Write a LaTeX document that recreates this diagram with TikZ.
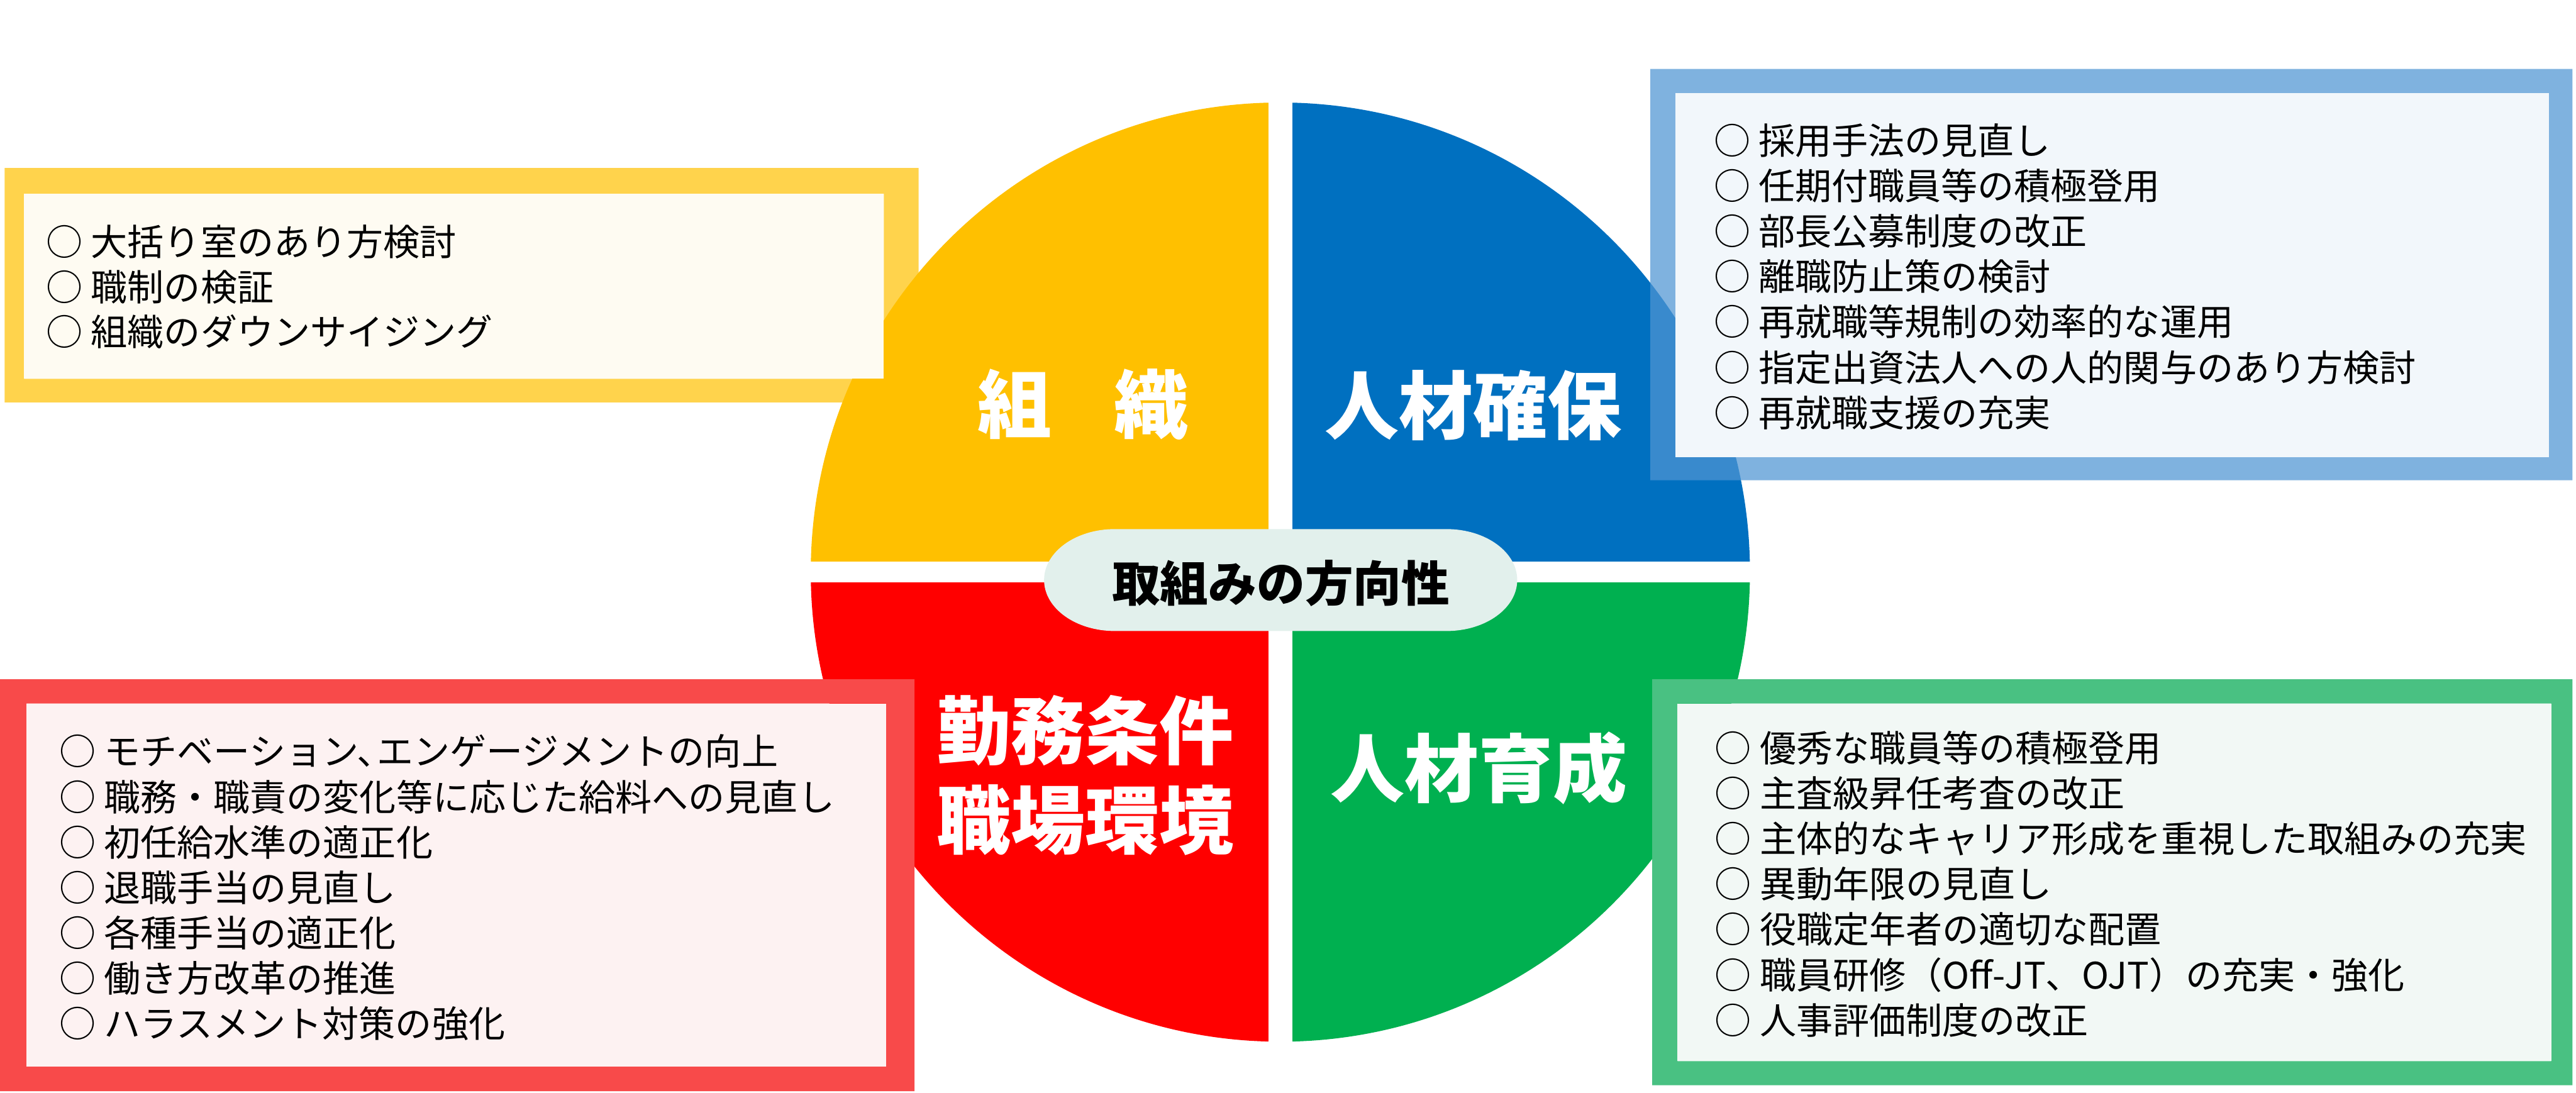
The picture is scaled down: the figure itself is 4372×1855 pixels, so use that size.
\documentclass[tikz,border=0pt]{standalone}
\usepackage{fontspec}
\newfontfamily\jpfont{Noto Sans CJK JP}
\definecolor{qyellow}{HTML}{FFC000}
\definecolor{qblue}{HTML}{0070C0}
\definecolor{qred}{HTML}{FF0000}
\definecolor{qgreen}{HTML}{00B050}
\definecolor{fblue}{RGB}{79,149,211}
\definecolor{fred}{HTML}{F84A4A}
\definecolor{fgreen}{HTML}{49C182}
\definecolor{iyellow}{HTML}{FEFBF2}
\definecolor{iblue}{HTML}{F2F7FB}
\definecolor{ired}{HTML}{FDF2F2}
\definecolor{igreen}{HTML}{F2F8F5}
\definecolor{pillc}{HTML}{E2F0EC}

\begin{document}
\begin{tikzpicture}[x=0.1mm,y=-0.1mm,
  item/.style={anchor=west,inner sep=0pt,text height=14.5pt,text depth=2pt,
    font=\jpfont\fontsize{17.64pt}{21pt}\selectfont},
  head/.style={inner sep=0pt,text=white,align=center,
    font=\jpfont\bfseries\fontsize{35.85pt}{43.2pt}\selectfont}]
\useasboundingbox (0,0) rectangle (4372,1855);

\begin{scope}
\clip (2173,971) circle[radius=79.7mm];
\fill[qyellow] (1300,100) rectangle (2153,953);
\fill[qblue] (2193,100) rectangle (3000,953);
\fill[qred] (1300,988) rectangle (2153,1850);
\fill[qgreen] (2193,988) rectangle (3000,1850);
\end{scope}

\fill[qyellow,opacity=0.7,even odd rule] (8,285) rectangle (1559,683) (41,329) rectangle (1500,643);
\fill[iyellow] (41,329) rectangle (1500,643);
\fill[fblue,opacity=0.73,even odd rule] (2801,117) rectangle (4366,815) (2844,158) rectangle (4326,776);
\fill[iblue] (2844,158) rectangle (4326,776);
\fill[fred,even odd rule] (0,1153) rectangle (1552,1852) (45,1194) rectangle (1504,1810);
\fill[ired] (45,1194) rectangle (1504,1810);
\fill[fgreen,even odd rule] (2804,1153) rectangle (4366,1842) (2847,1194) rectangle (4330,1801);
\fill[igreen] (2847,1194) rectangle (4330,1801);

\fill[pillc] (1892,898) -- (2455,898) arc[start angle=90,end angle=-90,x radius=12mm,y radius=8.65mm]
  -- (1892,1071) arc[start angle=270,end angle=90,x radius=12mm,y radius=8.65mm] -- cycle;
\node[inner sep=0pt,font=\jpfont\bfseries\fontsize{23.3pt}{28pt}\selectfont] (dir) at (2174,990) {取組みの方向性};

\node[head] (soshiki) at (1838,686) {組\hspace{0.84em}織};
\node[head] (kakuho) at (2500,688) {人材確保};
\node[head] (kinmu) at (1842,1316) {勤務条件\\職場環境};
\node[head] (ikusei) at (2510,1304) {人材育成};

\foreach \t [count=\i from 0] in {大括り室のあり方検討,職制の検証,組織のダウンサイジング}
  \node[item] (y\i) at (78,{412+76.5*\i}) {○ \t};

\foreach \t [count=\i from 0] in {採用手法の見直し,任期付職員等の積極登用,部長公募制度の改正,離職防止策の検討,
  再就職等規制の効率的な運用,指定出資法人への人的関与のあり方検討,再就職支援の充実}
  \node[item] (b\i) at (2908,{240+77*\i}) {○ \t};

\foreach \t [count=\i from 0] in {モチベーション、\kern-0.45em エンゲージメントの向上,職務・職責の変化等に応じた給料への見直し,
  初任給水準の適正化,退職手当の見直し,各種手当の適正化,働き方改革の推進,ハラスメント対策の強化}
  \node[item] (r\i) at (100,{1277+77*\i}) {○ \t};

\foreach \t [count=\i from 0] in {優秀な職員等の積極登用,主査級昇任考査の改正,主体的なキャリア形成を重視した取組みの充実,
  異動年限の見直し,役職定年者の適切な配置,職員研修（Off-JT、OJT）の充実・強化,人事評価制度の改正}
  \node[item] (g\i) at (2910,{1271+77*\i}) {○ \t};
\end{tikzpicture}
\end{document}
